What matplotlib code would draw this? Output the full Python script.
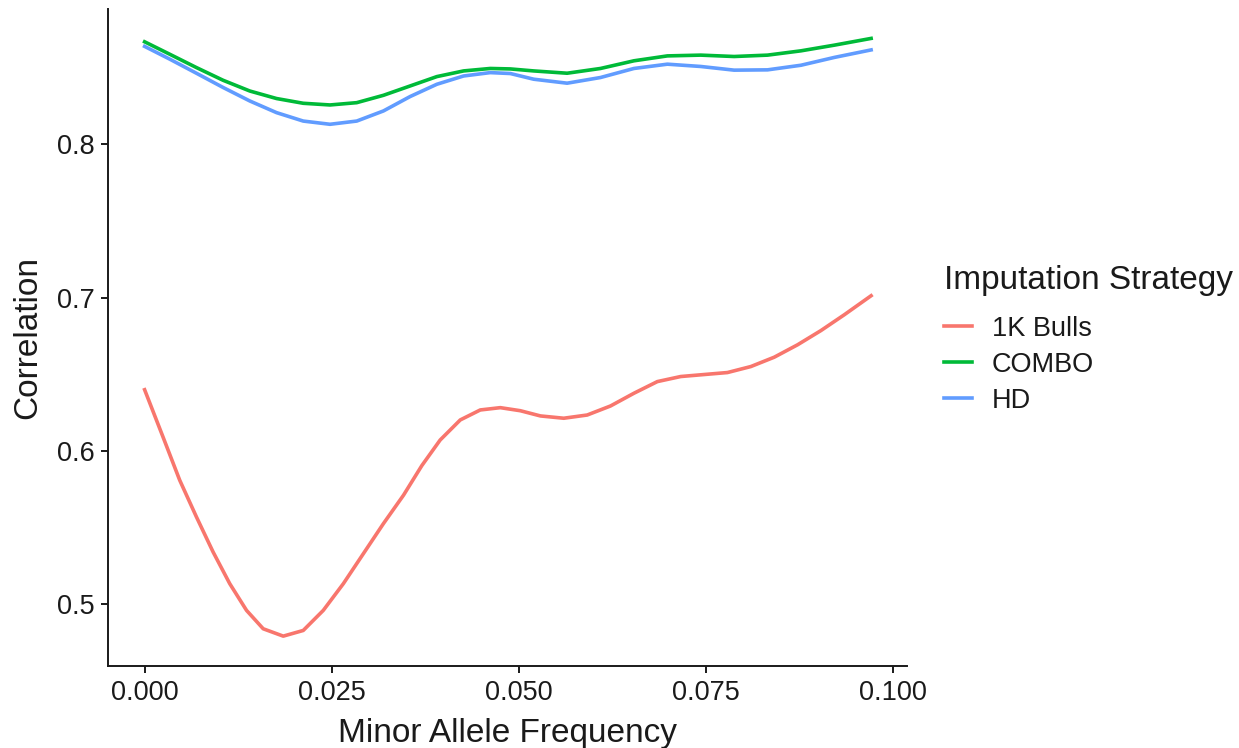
import numpy as np
import matplotlib.pyplot as plt

# values (minor allele frequency vs correlation)
maf_bulls = [0.0, 0.00245, 0.00469, 0.00692, 0.00915, 0.01138, 0.01362, 0.01585,
             0.01853, 0.0212, 0.02388, 0.02656, 0.02924, 0.03192, 0.0346, 0.03705,
             0.0395, 0.04219, 0.04486, 0.04754, 0.05022, 0.0529, 0.05602, 0.05915,
             0.06227, 0.0654, 0.06853, 0.07165, 0.07477, 0.0779, 0.08102, 0.08415,
             0.08727, 0.0904, 0.09352, 0.0971]
cor_bulls = [0.640, 0.6093, 0.581, 0.5571, 0.5342, 0.5135, 0.4961, 0.4841,
             0.4793, 0.483, 0.4961, 0.5135, 0.5331, 0.5527, 0.5712, 0.5905,
             0.6072, 0.6203, 0.6268, 0.6283, 0.6263, 0.6229, 0.6214, 0.6235,
             0.6294, 0.6377, 0.6453, 0.6486, 0.6499, 0.6512, 0.6551, 0.6612,
             0.6693, 0.6786, 0.6889, 0.7013]

maf_top = [0.0, 0.00335, 0.00692, 0.01049, 0.01406, 0.01763, 0.0212, 0.02478,
           0.02835, 0.03192, 0.03549, 0.03906, 0.04263, 0.0462, 0.04888, 0.052,
           0.05647, 0.06093, 0.0654, 0.06987, 0.07433, 0.07879, 0.08326, 0.08772,
           0.09218, 0.0971]
cor_combo = [0.8669, 0.8588, 0.8501, 0.8418, 0.8348, 0.8299, 0.8268, 0.8257,
             0.8272, 0.832, 0.8381, 0.8442, 0.8479, 0.8495, 0.8492, 0.8479,
             0.8464, 0.8495, 0.8545, 0.8577, 0.8582, 0.8573, 0.8582, 0.861,
             0.8647, 0.8691]
cor_hd = [0.8639, 0.8556, 0.8464, 0.8371, 0.8283, 0.8207, 0.8152, 0.8131,
          0.8152, 0.8218, 0.8312, 0.8392, 0.8446, 0.8468, 0.8462, 0.8425,
          0.8399, 0.8436, 0.8495, 0.8523, 0.8508, 0.8484, 0.8486, 0.8516,
          0.8567, 0.8616]

labels = ["1K Bulls", "COMBO", "HD"]
colors = ["#F8766D", "#00BA38", "#619CFF"]

plt.rcParams['font.family'] = ['Liberation Sans', 'DejaVu Sans']
txt_col = "#1a1a1a"

fig = plt.figure(figsize=(12.39, 7.48), dpi=100)
ax = fig.add_axes([0.0874, 0.1096, 0.645, 0.879])

lw = 2.6
ax.plot(maf_bulls, cor_bulls, color=colors[0], lw=lw, label=labels[0], solid_joinstyle='round')
ax.plot(maf_top, cor_combo, color=colors[1], lw=lw, label=labels[1], solid_joinstyle='round')
ax.plot(maf_top, cor_hd, color=colors[2], lw=lw, label=labels[2], solid_joinstyle='round')

# ggplot style 5% expansion
xr = 0.0971
ax.set_xlim(-0.05 * xr, xr * 1.05)
ymin, ymax = 0.4793, 0.8691
yr = ymax - ymin
ax.set_ylim(ymin - 0.05 * yr, ymax + 0.05 * yr)

ax.set_xticks([0.0, 0.025, 0.05, 0.075, 0.1])
ax.set_xticklabels(["0.000", "0.025", "0.050", "0.075", "0.100"])
ax.set_yticks([0.5, 0.6, 0.7, 0.8])
ax.set_yticklabels(["0.5", "0.6", "0.7", "0.8"])

for s in ["top", "right"]:
    ax.spines[s].set_visible(False)
for s in ["left", "bottom"]:
    ax.spines[s].set_linewidth(1.4)
    ax.spines[s].set_color(txt_col)
ax.tick_params(direction='out', length=5, width=1.4, labelsize=19.5,
               colors=txt_col, labelcolor=txt_col, pad=5)

ax.set_xlabel("Minor Allele Frequency", fontsize=24, labelpad=9, color=txt_col)
ax.set_ylabel("Correlation", fontsize=24, labelpad=10, color=txt_col)

leg = fig.legend(loc='center left', bbox_to_anchor=(0.742, 0.546), frameon=False,
                 title="Imputation Strategy", fontsize=19.5, title_fontsize=24,
                 handlelength=1.05, handletextpad=0.72, labelspacing=0.37)
leg._legend_box.align = "left"
leg._legend_box.sep = 14
for t in leg.get_texts():
    t.set_color(txt_col)
leg.get_title().set_color(txt_col)
for h in leg.legend_handles:
    h.set_linewidth(lw)

fig.savefig("out.png", dpi=100)
